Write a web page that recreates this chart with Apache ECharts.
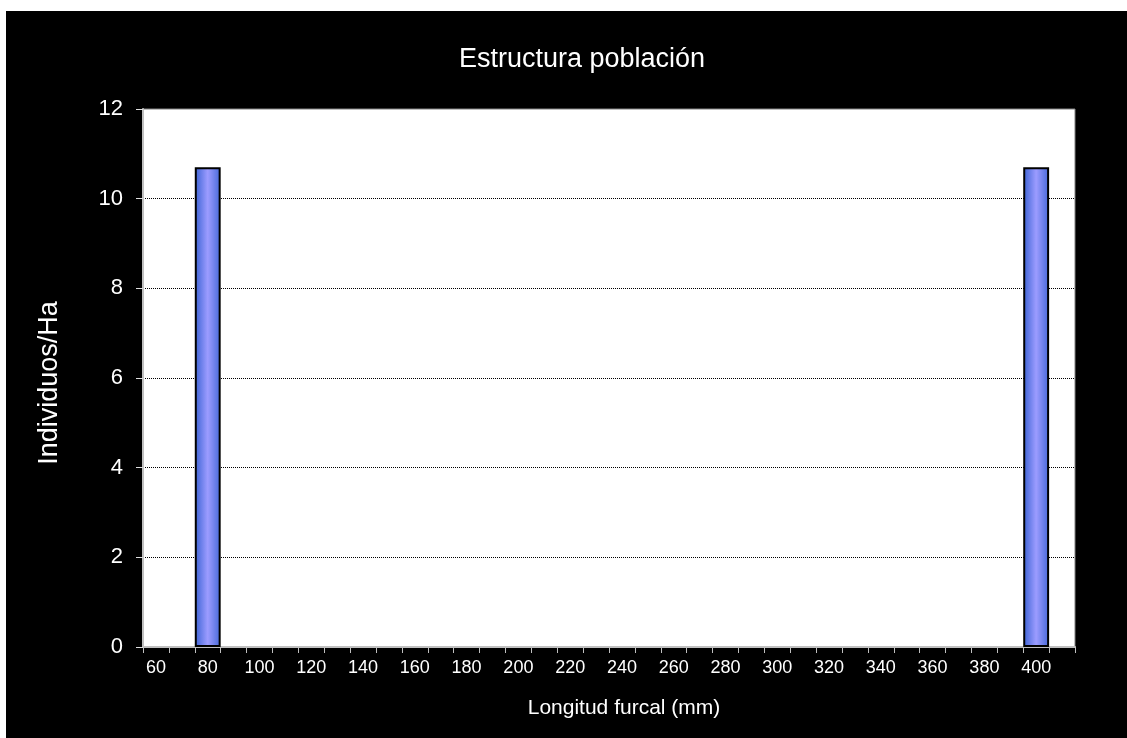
<!DOCTYPE html>
<html>
<head>
<meta charset="utf-8">
<script src="https://cdn.jsdelivr.net/npm/echarts@6/dist/echarts.min.js"></script>
<style>
html,body{margin:0;padding:0;background:#fff;width:1127px;height:738px;overflow:hidden;}
#chart{position:absolute;left:6px;top:11px;width:1121px;height:727px;background:#000;}
</style>
</head>
<body>
<div id="chart"></div>
<script>
const titleText = 'Estructura población';
const xAxisName = 'Longitud furcal (mm)';
const yAxisName = 'Individuos/Ha';
const categories = ['60','70','80','90','100','110','120','130','140','150','160','170','180','190','200','210','220','230','240','250','260','270','280','290','300','310','320','330','340','350','360','370','380','390','400','410'];
const values = [null,null,10.7,null,null,null,null,null,null,null,null,null,null,null,null,null,null,null,null,null,null,null,null,null,null,null,null,null,null,null,null,null,null,null,10.7,null];
const yTicks = [0, 12, 2];

const chart = echarts.init(document.getElementById('chart'), null, {renderer:'canvas'});
const font = 'Liberation Sans, Arial, sans-serif';
chart.setOption({
  backgroundColor: '#000',
  animation: false,
  title: {
    text: titleText,
    left: 453, top: 35, padding: 0,
    textStyle: {color:'#fff', fontSize:27, fontWeight:'normal', fontFamily:font}
  },
  grid: {
    left: 137, right: 52, top: 98, bottom: 91,
    show: true, backgroundColor: '#fff', borderColor: '#808080', borderWidth: 1
  },
  xAxis: {
    type: 'category',
    data: categories,
    boundaryGap: true,
    name: xAxisName,
    nameLocation: 'middle',
    nameGap: 51,
    nameTextStyle: {color:'#fff', fontSize:21, fontFamily:font, padding:[0,0,0,30]},
    axisLine: {show:true, lineStyle:{color:'#c0c0c0', width:2}},
    axisTick: {show:true, alignWithLabel:false, interval:0, length:6, lineStyle:{color:'#c0c0c0'}},
    axisLabel: {interval:1, color:'#fff', fontSize:18, fontFamily:font, margin:12},
    splitLine: {show:false}
  },
  yAxis: {
    type: 'value',
    min: yTicks[0], max: yTicks[1], interval: yTicks[2],
    name: yAxisName,
    nameLocation: 'middle',
    nameRotate: 90,
    nameGap: 80,
    nameTextStyle: {color:'#fff', fontSize:27, fontFamily:font, padding:[0,10,0,0]},
    axisLine: {show:true, lineStyle:{color:'#c0c0c0', width:2}},
    axisTick: {show:true, inside:false, length:7, lineStyle:{color:'#e0e0e0'}},
    axisLabel: {color:'#fff', fontSize:22, fontFamily:font, margin:20},
    splitLine: {show:true, lineStyle:{type:'dotted', width:1, color:['transparent','#000','#000','#000','#000','#000','transparent']}}
  },
  series: [{
    type: 'bar',
    data: values,
    barCategoryGap: '0%',
    itemStyle: {
      borderColor: '#000',
      borderWidth: 2,
      color: new echarts.graphic.LinearGradient(0,0,1,0,[
        {offset:0, color:'#3a62d4'},
        {offset:0.5, color:'#9c9cff'},
        {offset:1, color:'#4568d8'}
      ])
    }
  }]
});
</script>
</body>
</html>
